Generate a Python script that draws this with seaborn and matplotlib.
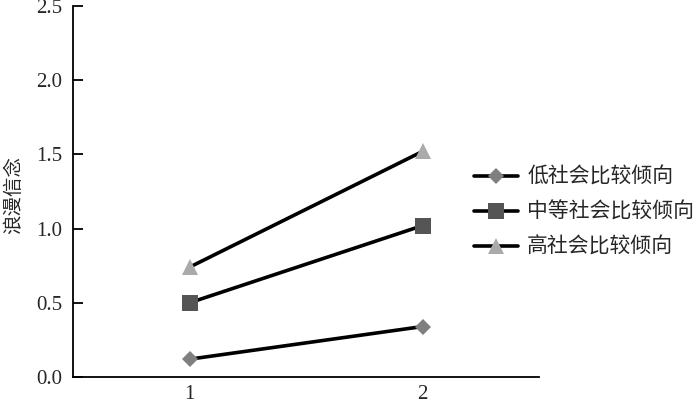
import pandas as pd
import matplotlib
matplotlib.use('Agg')
import matplotlib.pyplot as plt
import seaborn as sns

# dados
grupos = ['低社会比较倾向', '中等社会比较倾向', '高社会比较倾向']
tempo = [1, 2]
baixo = [0.12, 0.34]
medio = [0.50, 1.02]
alto = [0.74, 1.52]
marcadores = ['D', 's', '^']
cores = ['#7f7f7f', '#555555', '#aaaaaa']

sns.set_style('white')
plt.rcParams['font.family'] = ['Liberation Serif', 'Noto Sans CJK SC']

fig = plt.figure(figsize=(7, 4.04), dpi=100)
ax = fig.add_axes([73 / 700, 1 - 377 / 404, (539 - 73) / 700, (377 - 6) / 404])

for nome, vals, m, c in zip(grupos, [baixo, medio, alto], marcadores, cores):
    df = pd.DataFrame({'x': tempo, 'y': vals})
    sns.lineplot(data=df, x='x', y='y', ax=ax, color='black', linewidth=2.6,
                 marker=m, markersize=12 if m != 'D' else 8.5,
                 markerfacecolor=c, markeredgecolor=c, markeredgewidth=0,
                 label=nome, legend=False)

ax.set_xlim(0.5, 2.5)
ax.set_ylim(0, 2.5)
ax.set_xticks(tempo)
ax.set_yticks([0, 0.5, 1.0, 1.5, 2.0, 2.5])
ax.set_yticklabels(['0.0', '0.5', '1.0', '1.5', '2.0', '2.5'])
ax.tick_params(axis='y', direction='in', length=7, width=1.3, color='black',
               labelsize=15, pad=8, left=True)
ax.tick_params(axis='x', length=0, labelsize=15, pad=6)
for lab in ax.get_xticklabels() + ax.get_yticklabels():
    lab.set_fontfamily('Liberation Serif')

ax.set_xlabel('')
ax.set_ylabel('浪漫信念', fontsize=14, family=['Noto Sans CJK SC'])
ax.yaxis.set_label_coords(-0.104, 0.49)

for s in ['top', 'right']:
    ax.spines[s].set_visible(False)
for s in ['left', 'bottom']:
    ax.spines[s].set_color('black')
    ax.spines[s].set_linewidth(1.3)

handles, labels = ax.get_legend_handles_labels()
leg = fig.legend(handles, labels, loc='upper left',
                 bbox_to_anchor=(474 / 700, 1 - 166 / 404), frameon=False,
                 prop={'family': 'Noto Sans CJK SC', 'size': 15},
                 handlelength=2.1, handletextpad=0.45, labelspacing=0.62,
                 borderpad=0, borderaxespad=0)

fig.savefig('out.png', dpi=100)
